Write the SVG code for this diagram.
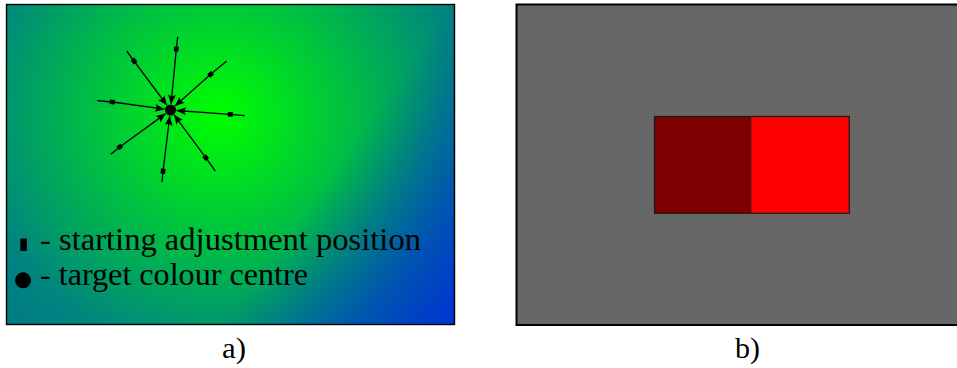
<svg xmlns="http://www.w3.org/2000/svg" width="957" height="368" viewBox="0 0 957 368">
<style>
.lbl{font-family:"Liberation Serif","Times New Roman",serif;fill:#000}
.ray{fill:none;stroke:#000;stroke-width:1.3;marker-mid:url(#sq);marker-end:url(#arr)}
</style>
<defs>
<radialGradient id="rg" gradientUnits="userSpaceOnUse" cx="220" cy="115" r="290">
<stop offset="0" stop-color="#00ff00"/>
<stop offset="0.85" stop-color="#008480"/>
<stop offset="1" stop-color="#007c84"/>
</radialGradient>
<linearGradient id="lg" gradientUnits="userSpaceOnUse" x1="300" y1="215" x2="455" y2="325">
<stop offset="0" stop-color="#0030d0" stop-opacity="0"/>
<stop offset="1" stop-color="#0030d8" stop-opacity="0.95"/>
</linearGradient>
<marker id="arr" viewBox="-10 -5 11 10" refX="0" refY="0" markerWidth="11" markerHeight="10" markerUnits="userSpaceOnUse" orient="auto">
<path d="M0,0 L-9.5,-4 Q-6.5,0 -9.5,4 Z" fill="#000"/>
</marker>
<marker id="sq" viewBox="-3 -3 6 6" refX="0" refY="0" markerWidth="6" markerHeight="6" markerUnits="userSpaceOnUse" orient="auto">
<rect x="-2.5" y="-2.3" width="5" height="4.6" fill="#000"/>
</marker>
</defs>

<g id="panel-a">
<rect x="6.5" y="4.5" width="448" height="320" fill="url(#rg)"/>
<rect x="6.5" y="4.5" width="448" height="320" fill="url(#lg)" stroke="#000" stroke-width="1.4"/>
</g>

<g id="connectors">
<path class="ray" d="M177.7,36.7 L176.3,49 L171.1,104.0"/>
<path class="ray" d="M126.7,51 L134,61 L166.9,105.2"/>
<path class="ray" d="M226.7,61 L210.7,74.3 L175.0,106.1"/>
<path class="ray" d="M97.3,100.7 L112.3,102 L164.5,109.2"/>
<path class="ray" d="M244.7,115.7 L230.3,114.3 L176.5,110.5"/>
<path class="ray" d="M110.7,154.3 L119.7,147 L165.7,113.6"/>
<path class="ray" d="M162,182 L163,171.3 L169.8,116.0"/>
<path class="ray" d="M215.3,171 L205.7,157.7 L174.1,114.8"/>
</g>

<g id="target">
<circle cx="170.5" cy="110" r="5.5" fill="#000"/>
</g>

<g id="legend">
<rect x="20.3" y="238.5" width="6.5" height="12.5" fill="#000"/>
<text class="lbl" x="40" y="250" font-size="31" textLength="381" lengthAdjust="spacingAndGlyphs">- starting adjustment position</text>
<circle cx="23" cy="280.3" r="8" fill="#000"/>
<text class="lbl" x="40" y="285" font-size="31" textLength="268" lengthAdjust="spacingAndGlyphs">- target colour centre</text>
</g>

<g id="panel-b">
<rect x="516.5" y="4.5" width="445" height="320.5" fill="#676767" stroke="#000" stroke-width="2"/>
<rect x="654.5" y="116.5" width="97.2" height="96.8" fill="#7f0000"/>
<rect x="751.7" y="116.5" width="97.6" height="96.8" fill="#ff0000"/>
<rect x="654.5" y="116.5" width="194.8" height="96.8" fill="none" stroke="#1a1a1a" stroke-width="1.2"/>
</g>

<g id="captions">
<text class="lbl" x="222" y="358" font-size="30" textLength="24" lengthAdjust="spacingAndGlyphs">a)</text>
<text class="lbl" x="735" y="358" font-size="30" textLength="25" lengthAdjust="spacingAndGlyphs">b)</text>
</g>
</svg>
